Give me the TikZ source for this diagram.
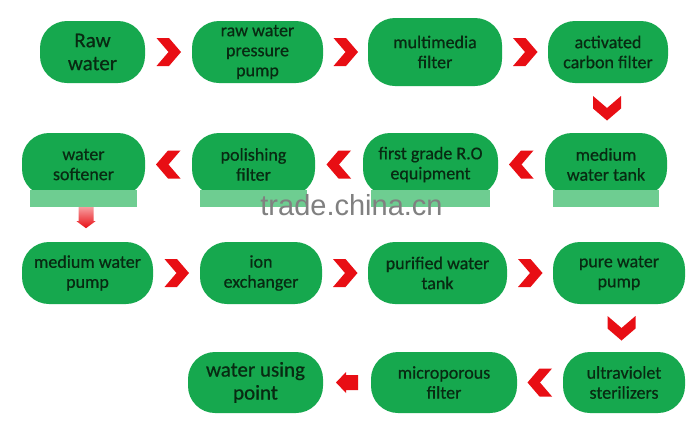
\documentclass[tikz,border=0pt]{standalone}
\usepackage{fontspec}
\setmainfont{Carlito}
\newfontfamily\boxfont{Carlito}[FakeBold=0.6]
\newfontfamily\wmfont{Liberation Sans}
\definecolor{boxgreen}{RGB}{22,168,78}
\definecolor{bandgreen}{RGB}{110,205,145}
\definecolor{txtgreen}{RGB}{8,42,18}
\definecolor{arrowred}{RGB}{232,14,20}
\definecolor{wmgray}{RGB}{128,128,128}
\begin{document}
\begin{tikzpicture}[x=1pt,y=-1pt,
  box/.style={rectangle, rounded corners=27pt, fill=boxgreen, text=txtgreen,
    align=center, inner sep=0pt, minimum height=62pt,
    font=\boxfont\fontsize{18}{20}\selectfont},
  bigtext/.style={font=\boxfont\fontsize{21}{23}\selectfont},
  wm/.style={text=wmgray, font=\wmfont\fontsize{29}{30}\selectfont, inner sep=0pt, anchor=base},
  chev/.pic={\fill[arrowred] (-12,-14)--(0.5,-14)--(12.5,0)--(0.5,14)--(-12,14)--(0,0)--cycle;},
  blockleft/.pic={\fill[arrowred] (-11,0)--(-1,-10.5)--(-1,-7.5)--(11,-7.5)--(11,7.5)--(-1,7.5)--(-1,10.5)--cycle;},
  downarr/.pic={\shade[top color=red!10, bottom color=arrowred]
     (-7.5,0)--(7.5,0)--(7.5,25)--(9.5,25)--(0,32)--(-9.5,25)--(-7.5,25)--cycle;}
]
\fill[white] (0,0) rectangle (700,432);
\useasboundingbox (0,0) rectangle (700,432);

% row 1
\node[box,bigtext,minimum width=105pt] (rw)  at (92.5,52)  {Raw\\water};
\node[box,minimum width=131pt] (rpp) at (257.5,52) {raw water\\pressure\\pump};
\node[box,minimum width=134pt,minimum height=68pt] (mmf) at (435,52) {multimedia\\filter};
\node[box,minimum width=120pt] (acf) at (608,52) {activated\\carbon filter};
% row 2
\node[box,minimum width=122pt,minimum height=63pt] (mwt) at (606,164.5) {medium\\water tank};
\node[box,minimum width=135pt,minimum height=63pt] (ro)  at (430.5,164.5) {first grade R.O\\equipment};
\node[box,minimum width=123pt,minimum height=63pt] (pf)  at (253.5,164.5) {polishing\\filter};
\node[box,minimum width=123pt,minimum height=63pt] (ws)  at (83.5,164.5) {water\\softener};
% row 3
\node[box,minimum width=131pt] (mwp) at (87.5,273) {medium water\\pump};
\node[box,minimum width=122pt] (ie)  at (261,273) {ion\\exchanger};
\node[box,minimum width=139pt] (pwt) at (437.5,273) {purified water\\tank};
\node[box,minimum width=132pt] (pwp) at (619,273) {pure water\\pump};
% row 4
\node[box,minimum width=122pt,minimum height=61pt] (uv)  at (624,382.5) {ultraviolet\\sterilizers};
\node[box,minimum width=146pt,minimum height=61pt] (mpf) at (444,382.5) {microporous\\filter};
\node[box,bigtext,minimum width=135pt,minimum height=61pt] (wup) at (255.5,382.5) {water using\\point};

% connectors
\path (rw.east)  -- coordinate[midway] (c1) (rpp.west);
\path (rpp.east) -- coordinate[midway] (c2) (mmf.west);
\path (mmf.east) -- coordinate[midway] (c3) (acf.west);
\path (acf.south) -- coordinate[midway] (c4) (mwt.north);
\path (mwt.west) -- coordinate[midway] (c5) (ro.east);
\path (ro.west)  -- coordinate[midway] (c6) (pf.east);
\path (pf.west)  -- coordinate[midway] (c7) (ws.east);
\path (mwp.east) -- coordinate[midway] (c8) (ie.west);
\path (ie.east)  -- coordinate[midway] (c9) (pwt.west);
\path (pwt.east) -- coordinate[midway] (c10) (pwp.west);
\path (pwp.south) -- coordinate[midway] (c11) (uv.north);
\path (uv.west)  -- coordinate[midway] (c12) (mpf.east);
\path (mpf.west) -- coordinate[midway] (c13) (wup.east);
\coordinate (d0) at ([xshift=2.5pt]ws.south);

\pic at (c1) {chev};
\pic at (c2) {chev};
\pic at (c3) {chev};
\pic[rotate=-90] at (c4) {chev};
\pic[rotate=180] at (c5) {chev};
\pic[rotate=180] at (c6) {chev};
\pic[rotate=180] at (c7) {chev};
\pic at (c8) {chev};
\pic at (c9) {chev};
\pic at (c10) {chev};
\pic[rotate=-90] at (c11) {chev};
\pic[rotate=180] at (c12) {chev};
\pic at (c13) {blockleft};
\pic at (d0) {downarr};

% watermark band
\foreach \n in {ws,pf,ro,mwt}
  \fill[bandgreen] ([xshift=8pt,yshift=6pt]\n.south west) rectangle ([xshift=-8pt,yshift=-11pt]\n.south east);
\node[wm] (wmk) at (351.5,215) {trade.china.cn};
\end{tikzpicture}
\end{document}
